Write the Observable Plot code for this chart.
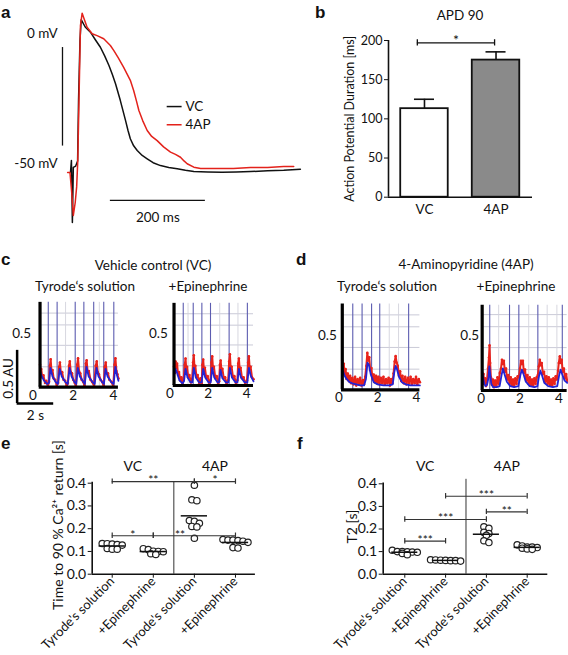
<!DOCTYPE html>
<html><head><meta charset="utf-8">
<script src="https://cdn.jsdelivr.net/npm/d3@7"></script>
<script src="https://cdn.jsdelivr.net/npm/@observablehq/plot@0.6"></script>
<style>
html,body{margin:0;padding:0;background:#fff;}
#fig{position:relative;width:568px;height:655px;overflow:hidden;background:#fff;font-family:Lato,"Open Sans",sans-serif;color:#111;}
#fig svg{position:absolute;}
.t{position:absolute;white-space:nowrap;font-size:13.5px;line-height:1;transform:translate(-50%,-50%);}
.L{position:absolute;font:bold 17px "Liberation Sans",Arial,sans-serif;line-height:1;}
</style></head><body><div id="fig"></div>
<script>
// ---------- panel a: action potentials (ms, mV)
const apTimeVC = [-19,-17,-16,-15,-13,-8,-4,-2,1,3.6,12,23,33,44,53,62,69,76,86,97,102,107,114,121.5,132,142.5,155,170.5,188,205.7,223,240.7,270,300,330,360,396,430,465];
const apVoltVC = [-53.5,-48.8,-60,-72.7,-51.5,-51,-49,-25.8,-2.7,5.3,2.5,0.5,-2.3,-5.3,-8.6,-12.3,-15.7,-19.4,-25.8,-33.5,-37.2,-40.5,-43.2,-45,-46.9,-48.2,-49.7,-50.8,-51.5,-52,-52.6,-53.1,-53.3,-53.4,-53.3,-53.1,-52.8,-52.6,-52.2];
const apTime4AP = [-25,-20,-16,-13,-9,-6,-3.6,-1,2,5.6,10,16,26.7,37,51,65,72,82,93,100,107,114,120,125,133,142.5,152,163.5,177,191.6,202,212.6,220,226.7,240.7,255,290,324,360,396,430,451];
const apVolt4AP = [-53.5,-53.5,-62,-70,-65,-59,-48.8,-25,3,7.8,5.5,2.4,-0.1,-0.8,-2,-4.6,-6.5,-9.5,-13,-15.5,-18,-21.9,-26,-29.6,-33.5,-37.3,-39.6,-41.2,-43.6,-45.6,-46.5,-47.6,-49,-50.1,-51.4,-51.9,-51.9,-51.9,-51.5,-51.5,-51.2,-51.2];
const apVoltLabels = [0, -50];
const apLegend = ["VC", "4AP"];

// ---------- panel b: APD90
const apdGroups = ["VC", "4AP"];
const apdMean = [113, 175];
const apdSem = [12, 10.5];
const apdTicks = [0, 50, 100, 150, 200];

// ---------- panels c, d: calcium traces [time s, AU]
const caVcTyrBlue = [[0.35,0.15],[0.42,0.11],[0.55,0.06],[0.7,0.03],[0.79,0.04],[0.87,0.18],[0.97,0.1],[1.12,0.05],[1.24,0.03],[1.33,0.17],[1.43,0.1],[1.6,0.05],[1.73,0.03],[1.82,0.18],[1.92,0.1],[2.06,0.05],[2.15,0.03],[2.23,0.18],[2.33,0.1],[2.5,0.05],[2.58,0.03],[2.66,0.19],[2.77,0.1],[2.95,0.05],[3.07,0.03],[3.16,0.18],[3.26,0.1],[3.43,0.05],[3.53,0.03],[3.61,0.17],[3.71,0.1],[3.88,0.05],[4.01,0.03],[4.1,0.19],[4.18,0.11],[4.25,0.06]];
const caVcTyrRed = [[0.35,0.21],[0.38,0.13],[0.41,0.17],[0.46,0.09],[0.52,0.11],[0.6,0.04],[0.66,0.06],[0.74,0.01],[0.8,0.05],[0.84,0.2],[0.88,0.26],[0.92,0.15],[0.97,0.16],[1.03,0.08],[1.1,0.07],[1.18,0.02],[1.25,0.04],[1.3,0.19],[1.34,0.23],[1.39,0.13],[1.45,0.14],[1.52,0.07],[1.6,0.06],[1.68,0.01],[1.74,0.04],[1.79,0.2],[1.83,0.24],[1.88,0.14],[1.94,0.13],[2.0,0.07],[2.08,0.04],[2.14,0.01],[2.2,0.21],[2.24,0.27],[2.29,0.15],[2.35,0.13],[2.42,0.07],[2.5,0.05],[2.57,0.01],[2.63,0.22],[2.67,0.25],[2.72,0.14],[2.78,0.15],[2.86,0.07],[2.94,0.05],[3.04,0.01],[3.12,0.2],[3.17,0.24],[3.22,0.14],[3.28,0.12],[3.36,0.07],[3.44,0.05],[3.52,0.01],[3.57,0.19],[3.62,0.23],[3.67,0.13],[3.73,0.13],[3.8,0.07],[3.9,0.05],[3.99,0.01],[4.06,0.21],[4.1,0.27],[4.15,0.15],[4.2,0.12],[4.25,0.08]];
const caVcTyrMarks = [0.76,1.2,2.1,2.53,3.02,3.52,4.02];
const caVcEpiBlue = [[0.22,0.1],[0.3,0.16],[0.38,0.12],[0.5,0.05],[0.66,0.02],[0.74,0.04],[0.82,0.16],[0.92,0.08],[1.08,0.03],[1.17,0.03],[1.25,0.17],[1.35,0.08],[1.52,0.03],[1.66,0.03],[1.74,0.16],[1.84,0.08],[2.02,0.03],[2.13,0.03],[2.21,0.17],[2.31,0.08],[2.48,0.03],[2.56,0.03],[2.64,0.15],[2.74,0.07],[2.92,0.03],[3.05,0.03],[3.13,0.17],[3.23,0.08],[3.42,0.03],[3.52,0.03],[3.6,0.16],[3.7,0.08],[3.9,0.03],[4.04,0.03],[4.12,0.17],[4.22,0.09],[4.36,0.04]];
const caVcEpiRed = [[0.22,0.18],[0.26,0.12],[0.3,0.23],[0.34,0.17],[0.38,0.21],[0.43,0.1],[0.48,0.13],[0.54,0.05],[0.6,0.08],[0.66,0.01],[0.72,0.06],[0.78,0.2],[0.82,0.26],[0.86,0.15],[0.9,0.18],[0.96,0.08],[1.02,0.1],[1.1,0.03],[1.16,0.06],[1.21,0.22],[1.25,0.29],[1.29,0.16],[1.33,0.19],[1.39,0.08],[1.45,0.1],[1.53,0.02],[1.6,0.07],[1.66,0.02],[1.7,0.2],[1.74,0.25],[1.78,0.14],[1.83,0.17],[1.9,0.07],[1.97,0.09],[2.05,0.02],[2.12,0.05],[2.17,0.22],[2.21,0.28],[2.25,0.16],[2.3,0.18],[2.37,0.07],[2.44,0.09],[2.52,0.02],[2.57,0.04],[2.61,0.2],[2.65,0.24],[2.69,0.14],[2.74,0.16],[2.81,0.07],[2.88,0.08],[2.96,0.02],[3.04,0.05],[3.09,0.23],[3.13,0.3],[3.17,0.17],[3.22,0.18],[3.29,0.08],[3.36,0.09],[3.45,0.02],[3.52,0.05],[3.56,0.21],[3.6,0.26],[3.64,0.15],[3.69,0.17],[3.76,0.07],[3.84,0.08],[3.93,0.02],[4.02,0.05],[4.08,0.22],[4.12,0.28],[4.16,0.16],[4.21,0.18],[4.28,0.08],[4.36,0.06]];
const caVcEpiMarks = [0.7,1.22,1.67,2.12,3.09,4.04];
const ca4apTyrBlue = [[0.18,0.2],[0.22,0.17],[0.3,0.13],[0.4,0.1],[0.55,0.07],[0.7,0.06],[0.9,0.05],[1.1,0.04],[1.3,0.04],[1.4,0.1],[1.48,0.25],[1.55,0.23],[1.65,0.14],[1.8,0.07],[2.0,0.05],[2.3,0.04],[2.6,0.04],[2.78,0.05],[2.86,0.16],[2.93,0.22],[3.0,0.19],[3.1,0.12],[3.25,0.07],[3.45,0.05],[3.7,0.04],[4.0,0.04],[4.18,0.04]];
const ca4apTyrRed = [[0.18,0.27],[0.22,0.2],[0.26,0.24],[0.3,0.14],[0.35,0.19],[0.4,0.1],[0.46,0.15],[0.52,0.08],[0.58,0.13],[0.64,0.06],[0.7,0.11],[0.77,0.05],[0.84,0.12],[0.9,0.04],[0.97,0.1],[1.04,0.05],[1.1,0.11],[1.17,0.04],[1.24,0.09],[1.3,0.05],[1.36,0.12],[1.42,0.22],[1.47,0.34],[1.52,0.27],[1.57,0.3],[1.62,0.18],[1.68,0.2],[1.74,0.1],[1.8,0.14],[1.86,0.07],[1.92,0.13],[1.98,0.06],[2.04,0.12],[2.1,0.05],[2.17,0.11],[2.24,0.06],[2.3,0.12],[2.37,0.05],[2.44,0.1],[2.5,0.06],[2.57,0.11],[2.64,0.04],[2.7,0.1],[2.76,0.06],[2.82,0.15],[2.88,0.26],[2.93,0.31],[2.98,0.25],[3.04,0.22],[3.1,0.13],[3.16,0.17],[3.22,0.08],[3.28,0.13],[3.35,0.06],[3.42,0.12],[3.49,0.05],[3.56,0.11],[3.63,0.06],[3.7,0.12],[3.77,0.05],[3.84,0.1],[3.91,0.06],[3.98,0.12],[4.05,0.05],[4.12,0.1],[4.18,0.07]];
const ca4apTyrMarks = [0.72,1.2,1.69,2.11,3.6];
const ca4apEpiBlue = [[0.05,0.17],[0.1,0.12],[0.16,0.06],[0.22,0.04],[0.3,0.05],[0.38,0.12],[0.42,0.22],[0.46,0.15],[0.52,0.06],[0.62,0.03],[0.8,0.03],[0.95,0.04],[1.05,0.14],[1.12,0.2],[1.2,0.15],[1.32,0.08],[1.5,0.04],[1.7,0.03],[1.92,0.04],[2.02,0.14],[2.1,0.19],[2.18,0.15],[2.3,0.08],[2.5,0.04],[2.75,0.03],[2.9,0.04],[2.98,0.13],[3.05,0.18],[3.13,0.14],[3.25,0.07],[3.45,0.04],[3.7,0.03],[3.92,0.04],[4.02,0.14],[4.09,0.19],[4.17,0.15],[4.3,0.09],[4.43,0.07]];
const ca4apEpiRed = [[0.05,0.16],[0.08,0.1],[0.12,0.15],[0.16,0.06],[0.2,0.11],[0.25,0.04],[0.3,0.1],[0.35,0.2],[0.4,0.3],[0.43,0.41],[0.46,0.25],[0.5,0.12],[0.55,0.05],[0.6,0.1],[0.66,0.03],[0.72,0.09],[0.78,0.04],[0.84,0.12],[0.9,0.06],[0.96,0.16],[1.02,0.2],[1.07,0.28],[1.12,0.24],[1.17,0.27],[1.22,0.17],[1.28,0.2],[1.34,0.1],[1.4,0.14],[1.46,0.06],[1.52,0.12],[1.58,0.05],[1.64,0.1],[1.7,0.04],[1.76,0.11],[1.82,0.06],[1.88,0.13],[1.94,0.12],[2.0,0.2],[2.05,0.27],[2.1,0.24],[2.15,0.27],[2.2,0.16],[2.26,0.19],[2.32,0.09],[2.38,0.14],[2.44,0.06],[2.5,0.12],[2.56,0.05],[2.62,0.1],[2.68,0.04],[2.74,0.11],[2.8,0.06],[2.86,0.12],[2.92,0.14],[2.97,0.22],[3.02,0.28],[3.07,0.23],[3.12,0.25],[3.18,0.15],[3.24,0.17],[3.3,0.08],[3.36,0.13],[3.42,0.06],[3.48,0.12],[3.54,0.05],[3.6,0.1],[3.66,0.04],[3.72,0.11],[3.78,0.06],[3.84,0.13],[3.9,0.1],[3.96,0.18],[4.0,0.25],[4.05,0.31],[4.1,0.25],[4.15,0.28],[4.2,0.17],[4.26,0.2],[4.32,0.11],[4.38,0.15],[4.43,0.09]];
const ca4apEpiMarks = [0.44,1.46,1.94,2.92,4.18];
const caGridY = [0.19, 0.39, 0.58, 0.69];
const caTicksX = [0, 2, 4];
const caTicksY = [0.5];

// ---------- panels e, f: scatter (s)
const dotCategories = ["Tyrode's solution", "+Epinephrine", "Tyrode's solution", "+Epinephrine"];
const dotGroupLabels = ["VC", "4AP"];
const dotTicksY = [0, 0.1, 0.2, 0.3, 0.4];
const eVcTyr = [0.135,0.132,0.13,0.134,0.128,0.11,0.11,0.113];
const eVcEpi = [0.112,0.108,0.099,0.1,0.101,0.087,0.09];
const e4apTyr = [0.391,0.327,0.323,0.236,0.232,0.224,0.21,0.208,0.158];
const e4apEpi = [0.15,0.148,0.145,0.15,0.152,0.14,0.115,0.117];
const eBrackets = [{from:0,to:2,y:0.407,label:"**"},{from:2,to:3,y:0.407,label:"*"},{from:0,to:1,y:0.169,label:"*"},{from:1,to:3,y:0.169,label:"**",at:1.65}];
const fVcTyr = [0.098,0.1,0.106,0.086,0.1,0.097,0.099,0.092];
const fVcEpi = [0.062,0.06,0.063,0.058,0.061,0.06,0.064];
const f4apTyr = [0.21,0.203,0.185,0.18,0.172,0.14,0.148];
const f4apEpi = [0.13,0.125,0.12,0.118,0.115,0.11,0.112,0.12];
const fBrackets = [{from:1,to:3,y:0.345,label:"***"},{from:2,to:3,y:0.276,label:"**"},{from:0,to:2,y:0.242,label:"***"},{from:0,to:1,y:0.146,label:"***"}];

// ---------- helpers
const fig = document.getElementById("fig");
const S = {background:"transparent", overflow:"visible", fontFamily:"Lato, 'Open Sans', sans-serif", fontSize:"13px", color:"#111"};
function frame(L,T,W,H,px0,px1,xd,py0,py1,yd){
  return {width:W,height:H,marginLeft:px0-L,marginRight:L+W-px1,marginTop:py1-T,marginBottom:T+H-py0,
    x:{type:"linear",domain:xd},y:{type:"linear",domain:yd},style:S};
}
function place(svg,L,T){svg.style.position="absolute";svg.style.left=L+"px";svg.style.top=T+"px";fig.appendChild(svg);}
function txt(s,cx,cy,size){const d=document.createElement("div");d.className="t";d.textContent=s;d.style.left=cx+"px";d.style.top=cy+"px";if(size)d.style.fontSize=size+"px";fig.appendChild(d);}
function letter(s,x,y){const d=document.createElement("div");d.className="L";d.textContent=s;d.style.left=x+"px";d.style.top=y+"px";fig.appendChild(d);}
// simple column swarm: values that lie close together share a row and are spread sideways
function swarm(values, i, step, tol){
  const sorted = [...values].sort((a,b)=>b-a), rows = [];
  for (const v of sorted) {
    const row = rows[rows.length-1];
    if (row && row[0] - v <= tol) row.push(v); else rows.push([v]);
  }
  return rows.flatMap(row => row.map((v,j)=>({v, x: i + (j - (row.length-1)/2)*step})));
}

// ---------- panel a
{
  const o = frame(0,0,310,240, 60,305.1,[-40,476], 230.6,9.6,[-76,9]);
  o.x.axis = null; o.y.axis = null;
  const vc = apTimeVC.map((t,i)=>({t, v:apVoltVC[i]}));
  const ap = apTime4AP.map((t,i)=>({t, v:apVolt4AP[i]}));
  place(Plot.plot({...o, marks:[
    Plot.line(vc,{x:"t",y:"v",stroke:"#111",strokeWidth:1.5}),
    Plot.line(ap,{x:"t",y:"v",stroke:"#e3221b",strokeWidth:1.5}),
    Plot.ruleX([-35.8],{y1:-5.4,y2:-43.3,stroke:"#111",strokeWidth:1.3}),
    Plot.ruleY([-64.2],{x1:65,x2:265,stroke:"#111",strokeWidth:1.3}),
    Plot.text(apVoltLabels,{x:-46,y:d=>d,text:d=>`${d} mV`,textAnchor:"end",fontSize:13.5}),
    Plot.text(["200 ms"],{x:165,y:-70.8,fontSize:13.5}),
    Plot.ruleY([apLegend[0]],{y:-28.1,x1:184.6,x2:216,stroke:"#111",strokeWidth:1.5}),
    Plot.ruleY([apLegend[1]],{y:-35.1,x1:184.6,x2:216,stroke:"#e3221b",strokeWidth:1.5}),
    Plot.text(apLegend,{x:223,y:(d,i)=>[-28.1,-35.1][i],text:d=>d,textAnchor:"start",fontSize:13.5})
  ]}),0,0);
}

// ---------- panel b
{
  const o = frame(340,0,220,240, 388,532,[-0.503,1.51], 196.7,40,[0,200]);
  const apd = apdGroups.map((g,i)=>({g,i,mean:apdMean[i],sem:apdSem[i]}));
  place(Plot.plot({...o, marks:[
    Plot.rect([apd[0]],{x1:d=>d.i-0.332,x2:d=>d.i+0.332,y1:0,y2:"mean",fill:"#fff",stroke:"#111",strokeWidth:1.8}),
    Plot.rect([apd[1]],{x1:d=>d.i-0.332,x2:d=>d.i+0.332,y1:0,y2:"mean",fill:"#8a8a8a",stroke:"#111",strokeWidth:1.8}),
    Plot.ruleX(apd,{x:"i",y1:"mean",y2:d=>d.mean+d.sem,stroke:"#111",strokeWidth:1.6}),
    Plot.ruleY(apd,{y:d=>d.mean+d.sem,x1:d=>d.i-0.14,x2:d=>d.i+0.14,stroke:"#111",strokeWidth:1.6}),
    Plot.ruleX([-0.503],{y1:0,y2:200,stroke:"#111",strokeWidth:1.6}),
    Plot.ruleY([0],{x1:-0.503,x2:1.51,stroke:"#111",strokeWidth:1.6}),
    Plot.axisY({ticks:apdTicks,tickSize:4,tickPadding:2,fontSize:12.5,label:null}),
    Plot.axisX({ticks:[0,1],tickFormat:i=>apdGroups[i],tickSize:0,tickPadding:7,fontSize:13.5,label:null}),
    Plot.ruleY([197],{x1:-0.1,x2:0.98,stroke:"#111",strokeWidth:1.3}),
    Plot.ruleX([-0.1,0.98],{y1:193,y2:201,stroke:"#111",strokeWidth:1.3}),
    Plot.text(["*"],{x:0.44,y:197,dy:-2,fontSize:14}),
    Plot.text(["Action Potential Duration [ms]"],{x:-1.035,y:100,rotate:-90,fontSize:12.5})
  ]}),340,0);
}

// ---------- panels c, d
function mini(c){
  const px1 = c.x0px + c.tEnd*c.pps, py1 = c.y0px - c.yTop*c.ppu;
  const o = frame(c.L,c.T,c.W,c.H, c.x0px,px1,[0,c.tEnd], c.y0px,py1,[0,c.yTop]);
  const marks = [
    Plot.ruleY(caGridY,{x1:c.tStart,x2:c.tEnd,stroke:"#c4c4d2",strokeWidth:0.9}),
    Plot.ruleX(c.grayX,{y1:0,y2:c.yTop,stroke:"#d2d2dc",strokeWidth:0.9}),
    Plot.ruleX(c.marks,{y1:0,y2:c.yTop,stroke:"#5c5cb0",strokeWidth:1.1}),
    Plot.line(c.red,{x:d=>d[0],y:d=>d[1],stroke:"#e8231c",strokeWidth:2,strokeLinejoin:"round"}),
    Plot.dot(c.red,{x:d=>d[0],y:d=>d[1],r:1.3,fill:"#e8231c"}),
    Plot.line(c.blue,{x:d=>d[0],y:d=>d[1],stroke:"#2323d4",strokeWidth:1.8,strokeLinejoin:"round"}),
    Plot.ruleX([c.tStart],{y1:0,y2:c.yTop,stroke:"#000",strokeWidth:3.2}),
    Plot.ruleY([0],{x1:c.tStart-0.04,x2:c.tEnd,stroke:"#000",strokeWidth:3.2}),
    Plot.axisX({ticks:caTicksX,tickFormat:d3.format("d"),tickSize:0,tickPadding:3,fontSize:13.5,label:null}),
    Plot.axisY({ticks:caTicksY,tickFormat:d3.format(".1f"),tickSize:0,tickPadding:2,fontSize:13.5,label:null})
  ];
  if (c.extra) marks.push(...c.extra);
  place(Plot.plot({...o, marks}), c.L, c.T);
}
mini({L:0,T:290,W:125,H:120,x0px:32.5,pps:20.1,y0px:386.7,ppu:107.4,tStart:0.35,tEnd:4.25,yTop:0.79,
  blue:caVcTyrBlue,red:caVcTyrRed,marks:caVcTyrMarks,grayX:[1.62,3.3],
  extra:[
    Plot.ruleX([-0.79],{y1:-0.152,y2:0.343,stroke:"#000",strokeWidth:2.5}),
    Plot.ruleY([-0.152],{x1:-0.79,x2:1.03,stroke:"#000",strokeWidth:2.5}),
    Plot.text(["0.5 AU"],{x:-1.22,y:0.081,rotate:-90,fontSize:13.5}),
    Plot.text(["2 s"],{x:0.12,y:-0.263,fontSize:13.5})
  ]});
mini({L:135,T:290,W:125,H:120,x0px:169.3,pps:19.2,y0px:385,ppu:104,tStart:0.22,tEnd:4.36,yTop:0.79,
  blue:caVcEpiBlue,red:caVcEpiRed,marks:caVcEpiMarks,grayX:[0.95,2.6,3.55]});
mini({L:290,T:290,W:140,H:120,x0px:338.3,pps:19.4,y0px:389.3,ppu:108.6,tStart:0.18,tEnd:4.18,yTop:0.79,
  blue:ca4apTyrBlue,red:ca4apTyrRed,marks:ca4apTyrMarks,grayX:[2.6,3.08]});
mini({L:430,T:290,W:138,H:120,x0px:480.7,pps:19.4,y0px:390,ppu:110,tStart:0.05,tEnd:4.43,yTop:0.775,
  blue:ca4apEpiBlue,red:ca4apEpiRed,marks:ca4apEpiMarks,grayX:[0.9,2.45,3.4,3.9]});

// ---------- panels e, f
function dotPanel(c){
  const o = frame(c.L,c.T,c.W,c.H, c.px0,c.px1,c.xd, c.py0,c.py1,[0,0.42]);
  const step = 5 / ((c.px1-c.px0)/(c.xd[1]-c.xd[0]));
  const pts = c.groups.flatMap((vals,i)=>swarm(vals,i,step,0.013));
  const means = c.groups.map((v,i)=>({i, m:d3.mean(v)}));
  const caps = c.brackets.flatMap(b=>[{x:b.from,y:b.y},{x:b.to,y:b.y}]);
  place(Plot.plot({...o, marks:[
    Plot.ruleX([1.5],{y1:0,y2:c.sepTop,stroke:"#333",strokeWidth:1}),
    Plot.ruleX([c.xd[0]],{y1:0,y2:0.404,stroke:"#111",strokeWidth:1.6}),
    Plot.ruleY([0],{x1:c.xd[0],x2:c.xd[1],stroke:"#111",strokeWidth:1.6}),
    Plot.axisY({ticks:dotTicksY,tickFormat:d3.format(".1f"),tickSize:4,tickPadding:2,fontSize:14,label:null}),
    Plot.axisX({ticks:[0,1,2,3],tickFormat:i=>dotCategories[i],tickRotate:-45,tickSize:4,tickPadding:1,fontSize:13,label:null}),
    Plot.dot(pts,{x:"x",y:"v",r:3.2,stroke:"#222",strokeWidth:1.2,fill:"white"}),
    Plot.ruleY(means,{y:"m",x1:d=>d.i-0.32,x2:d=>d.i+0.32,stroke:"#111",strokeWidth:1.5}),
    Plot.ruleY(c.brackets,{y:"y",x1:"from",x2:"to",stroke:"#333",strokeWidth:1.2}),
    Plot.ruleX(caps,{x:"x",y1:d=>d.y-0.012,y2:d=>d.y+0.012,stroke:"#333",strokeWidth:1.2}),
    Plot.text(c.brackets,{x:d=>d.at ?? (d.from+d.to)/2,y:"y",text:"label",dy:-1,fontSize:12}),
    Plot.text(dotGroupLabels,{x:(d,i)=>[0.5,2.5][i],y:0.475,text:d=>d,fontSize:14}),
    Plot.text([c.yLabel],{x:c.yLabelX,y:c.yLabelY,rotate:-90,fontSize:c.yLabelSize})
  ]}), c.L, c.T);
}
dotPanel({L:0,T:440,W:275,H:215,px0:91.7,px1:254.9,xd:[-0.487,3.485],py0:573.7,py1:478.15,sepTop:0.407,
  groups:[eVcTyr,eVcEpi,e4apTyr,e4apEpi],brackets:eBrackets,
  yLabel:"Time to 90 % Ca²⁺ return [s]",yLabelX:-1.307,yLabelY:0.216,yLabelSize:14});
dotPanel({L:290,T:440,W:278,H:215,px0:382.7,px1:547.3,xd:[-0.529,3.505],py0:573.7,py1:478.8,sepTop:0.42,
  groups:[fVcTyr,fVcEpi,f4apTyr,f4apEpi],brackets:fBrackets,
  yLabel:"T2 [s]",yLabelX:-1.28,yLabelY:0.211,yLabelSize:14});

// ---------- titles & panel letters
txt("APD 90",460,16);
txt("Vehicle control (VC)",153,266);
txt("Tyrode‘s solution",85,287);
txt("+Epinephrine",208,287);
txt("4-Aminopyridine (4AP)",466,265);
txt("Tyrode‘s solution",387,287);
txt("+Epinephrine",516,287);
letter("a",1,4); letter("b",315,4); letter("c",1,251); letter("d",296,251); letter("e",1,435); letter("f",297,435);
</script></body></html>
